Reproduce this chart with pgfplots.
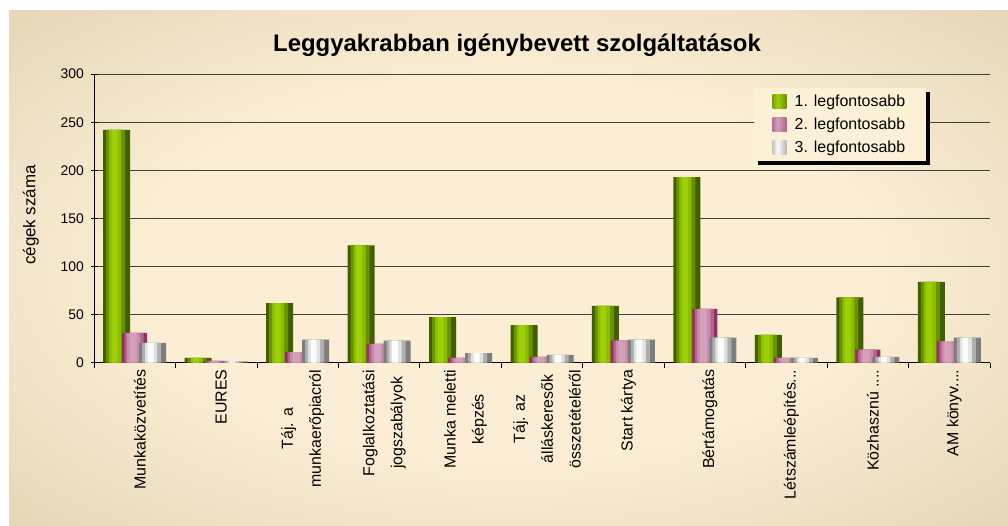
\documentclass[border=0pt]{standalone}
\usepackage{pgfplots}
\usepackage{pgfplotstable}
\pgfplotsset{compat=1.18}
\usepackage{fontspec}
\setmainfont{Liberation Sans}
\usetikzlibrary{shadows}
\definecolor{bgedge}{RGB}{208,196,160}
\definecolor{bgmid}{RGB}{252,238,212}
\definecolor{g1}{RGB}{66,95,0}
\definecolor{g2}{RGB}{105,145,0}
\definecolor{g3}{RGB}{140,190,0}
\definecolor{g4}{RGB}{158,208,10}
\definecolor{p1}{RGB}{150,45,100}
\definecolor{p2}{RGB}{180,100,140}
\definecolor{p3}{RGB}{200,140,172}
\definecolor{p4}{RGB}{212,160,188}
\definecolor{s1}{RGB}{125,125,125}
\definecolor{s2}{RGB}{175,175,175}
\definecolor{s3}{RGB}{225,225,225}
\definecolor{s4}{RGB}{252,252,252}
\definecolor{legfill}{RGB}{252,240,214}
\pgfdeclareradialshading{bgshade}{\pgfpoint{0bp}{0bp}}{color(0bp)=(bgmid); color(18bp)=(bgmid); color(50bp)=(bgedge); color(72bp)=(bgedge)}
\pgfdeclarehorizontalshading{gsh}{100bp}{color(0bp)=(g1); color(42bp)=(g4); color(100bp)=(g1)}
\pgfdeclarehorizontalshading{psh}{100bp}{color(0bp)=(p1); color(42bp)=(p4); color(100bp)=(p1)}
\pgfdeclarehorizontalshading{ssh}{100bp}{color(0bp)=(s1); color(42bp)=(s4); color(100bp)=(s1)}
\newcommand{\legimg}[1]{\pgfpathrectangle{\pgfpoint{0bp}{-7bp}}{\pgfpoint{14bp}{14bp}}\pgfshadepath{#1}{0}\pgfusepath{discard}\pgfpathrectangle{\pgfpoint{0bp}{-7bp}}{\pgfpoint{20bp}{14bp}}\pgfusepath{use as bounding box}}
\newcommand{\dd}{{.}}
\pgfplotstableread{
cat g p s
0 242 31 20.5
1 5 2 1.5
2 62 11 24
3 122 19.5 23
4 47.5 5 10
5 39 6 8
6 59 23 24
7 193 56 26
8 29 5 5
9 68 13.5 6
10 84 22.5 26
}\datatable
\begin{document}
\begin{tikzpicture}[x=1bp,y=1bp]
\useasboundingbox (0,0) rectangle (1008,526);
\fill[white] (0,0) rectangle (1008,526);
\shade[shading=bgshade] (9,0) rectangle (1008,515);
\node[font=\bfseries\fontsize{24}{28}\selectfont] at (517,481) {Leggyakrabban igénybevett szolgáltatások};
\node[rotate=90, font=\fontsize{17}{20}\selectfont] at (31,311) {cégek száma};
\begin{axis}[
  at={(94bp,163.3bp)}, anchor=south west,
  scale only axis, width=896bp, height=288.5bp,
  xmin=-0.5, xmax=10.5, ymin=0, ymax=300,
  axis x line*=bottom, axis y line*=left,
  axis line style={black, line width=1bp},
  ytick={0,50,100,150,200,250,300},
  ymajorgrids, grid style={black!75, line width=1bp},
  ytick style={black, line width=0.8bp}, tick align=center,
  major tick length=7bp,
  yticklabel style={font=\fontsize{14}{16}\selectfont, xshift=-3bp, /pgf/number format/assume math mode=true},
  xtick={0,1,2,3,4,5,6,7,8,9,10},
  xtick style={draw=none},
  xticklabels={Munkaközvetítés, EURES, {Táj. a\\[9bp]munkaerőpiacról}, {Foglalkoztatási\\[9bp]jogszabályok}, {Munka meletti\\[9bp]képzés}, {Táj. az\\[9bp]álláskeresők\\[9bp]összetételéről}, Start kártya, Bértámogatás, {Létszámleépítés\dd\dd\dd}, {Közhasznú \dd\dd\dd\dd}, {AM könyv\dd\dd\dd\dd}},
  xticklabel style={rotate=90, anchor=east, align=center, font=\fontsize{16}{19}\selectfont, yshift=-5bp},
  extra x ticks={-0.5,0.5,1.5,2.5,3.5,4.5,5.5,6.5,7.5,8.5,9.5,10.5},
  extra x tick labels={},
  extra x tick style={xtick style={draw=black, line width=0.8bp}, tick align=outside, major tick length=5bp},
  legend style={at={(0.736,0.952)}, anchor=north west, fill=legfill, draw=none,
    drop shadow={shadow xshift=4bp, shadow yshift=-4bp, fill=black, opacity=1},
    font=\fontsize{16}{19}\selectfont, row sep=6bp, inner xsep=19bp, inner ysep=5bp,
    cells={anchor=west}},
  bar style/.style={ybar, draw=none},
]
% green series (layers give a cylinder look)
\addplot[bar style, bar width=27bp, bar shift=-18bp, fill=g1, legend image code/.code={\legimg{gsh}}]
  table[x=cat, y=g] {\datatable};
\addplot[bar style, bar width=19bp, bar shift=-19bp, fill=g2, forget plot] table[x=cat, y=g] {\datatable};
\addplot[bar style, bar width=12bp, bar shift=-19.5bp, fill=g3, forget plot] table[x=cat, y=g] {\datatable};
\addplot[bar style, bar width=6bp, bar shift=-20bp, fill=g4, forget plot] table[x=cat, y=g] {\datatable};
% pink series
\addplot[bar style, bar width=25bp, bar shift=0bp, fill=p1, legend image code/.code={\legimg{psh}}]
  table[x=cat, y=p] {\datatable};
\addplot[bar style, bar width=19bp, bar shift=-0.5bp, fill=p2, forget plot] table[x=cat, y=p] {\datatable};
\addplot[bar style, bar width=13bp, bar shift=-1bp, fill=p3, forget plot] table[x=cat, y=p] {\datatable};
\addplot[bar style, bar width=7bp, bar shift=-1.5bp, fill=p4, forget plot] table[x=cat, y=p] {\datatable};
% grey series
\addplot[bar style, bar width=27bp, bar shift=18bp, fill=s1, legend image code/.code={\legimg{ssh}}]
  table[x=cat, y=s] {\datatable};
\addplot[bar style, bar width=19bp, bar shift=17bp, fill=s2, forget plot] table[x=cat, y=s] {\datatable};
\addplot[bar style, bar width=12bp, bar shift=16.5bp, fill=s3, forget plot] table[x=cat, y=s] {\datatable};
\addplot[bar style, bar width=6bp, bar shift=16bp, fill=s4, forget plot] table[x=cat, y=s] {\datatable};
\legend{1. legfontosabb, 2. legfontosabb, 3. legfontosabb}
\end{axis}
\end{tikzpicture}
\end{document}
